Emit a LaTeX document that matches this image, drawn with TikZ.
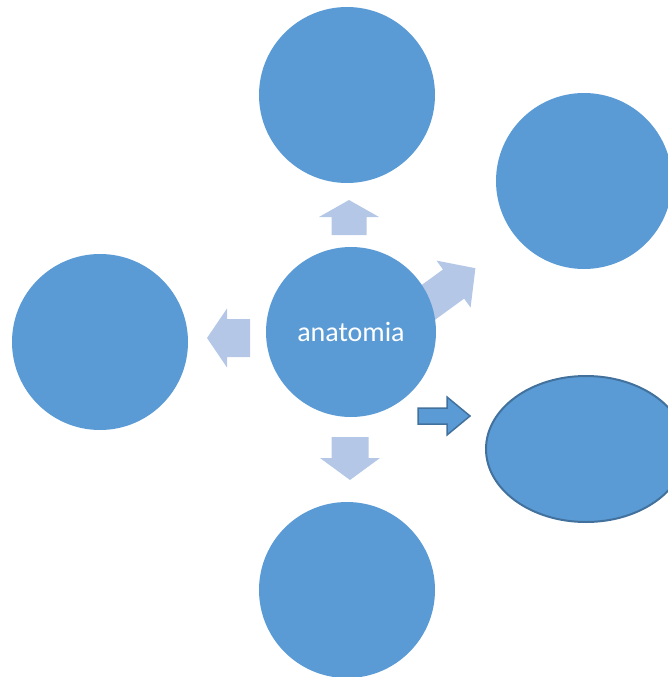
\documentclass[tikz,border=0pt]{standalone}
\usepackage{fontspec}
\setmainfont{Carlito}
\usetikzlibrary{shapes.geometric}

\definecolor{bubblefill}{HTML}{5B9BD5}
\definecolor{bubbleline}{HTML}{41719C}
\definecolor{paleblue}{HTML}{B4C7E7}

\tikzset{
  bubble/.style={circle, fill=bubblefill, inner sep=0pt, minimum size=#1},
  bubble/.default=176pt,
  oval/.style={ellipse, fill=bubblefill, draw=bubbleline, line width=2pt,
    inner sep=0pt, minimum width=200pt, minimum height=146pt},
  palearrow/.style={fill=paleblue},
  darkarrow/.style={fill=bubblefill, draw=bubbleline, line width=1.5pt, line join=miter},
  % block arrow along +x: total length / head length / shaft half width / head half width
  pics/blockarr/.style args={#1/#2/#3/#4}{code={
    \path[pic actions] (0,-#3) -- (#1-#2,-#3) -- (#1-#2,-#4) -- (#1,0)
      -- (#1-#2,#4) -- (#1-#2,#3) -- (0,#3) -- cycle;
  }},
}

\begin{document}
\begin{tikzpicture}[x=1pt, y=-1pt]
  \useasboundingbox (0,0) rectangle (668,677);
  \clip (0,0) rectangle (668,677);

  % arrows leaving the central bubble
  \pic[palearrow, rotate=90]  at (349,235) {blockarr=35/17/17.5/30};
  \pic[palearrow, rotate=-90] at (350,437) {blockarr=43/22/18.5/30};
  \pic[palearrow, rotate=180] at (250,338) {blockarr=43/20/19/29.5};
  \pic[palearrow, rotate=36]  at (422,307) {blockarr=66/27/18/29};
  \pic[darkarrow] at (418,416) {blockarr=52/23/8/19};

  % surrounding bubbles
  \node[bubble] (top)      at (347,95)  {};
  \node[bubble] (topright) at (584,181) {};
  \node[bubble] (left)     at (100,342) {};
  \node[bubble] (bottom)   at (347,590) {};
  \node[oval]   (right)    at (586,449) {};

  % central bubble
  \node[bubble=170pt, text=white, font=\fontsize{28}{34}\selectfont]
    (centre) at (351,332) {anatomia};
\end{tikzpicture}
\end{document}
